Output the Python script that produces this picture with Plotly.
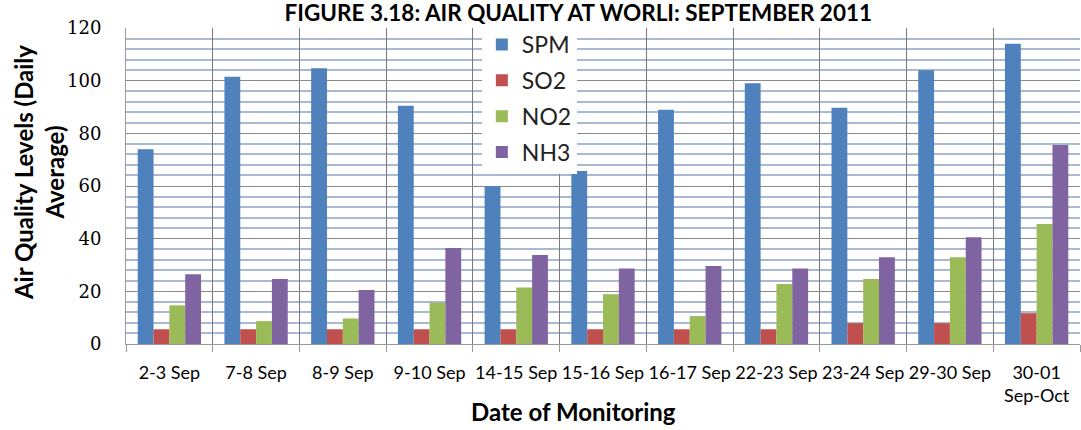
import plotly.graph_objects as go

categories = ["2-3 Sep", "7-8 Sep", "8-9 Sep", "9-10 Sep", "14-15 Sep", "15-16 Sep",
              "16-17 Sep", "22-23 Sep", "23-24 Sep", "29-30 Sep", "30-01<br>Sep-Oct"]
spm = [74, 101.5, 104.7, 90.5, 60, 65.7, 89, 99, 89.7, 104, 114]
so2 = [5.6, 5.6, 5.6, 5.6, 5.6, 5.6, 5.6, 5.6, 7.9, 7.9, 11.7]
no2 = [14.7, 8.7, 9.7, 15.7, 21.5, 18.9, 10.6, 22.8, 24.7, 32.9, 45.6]
nh3 = [26.5, 24.7, 20.5, 36.5, 33.8, 28.7, 29.6, 28.7, 32.9, 40.5, 75.6]

series = [("SPM", spm, "#4F81BD"), ("SO2", so2, "#C0504D"),
          ("NO2", no2, "#9BBB59"), ("NH3", nh3, "#8064A2")]

fig = go.Figure()
for name, vals, col in series:
    fig.add_trace(go.Bar(x=categories, y=vals, name=name, marker_color=col,
                         marker_line_width=0, legendgroup=name))

fig.update_layout(
    width=1081, height=430,
    margin=dict(l=126, r=1, t=28, b=86, autoexpand=False),
    paper_bgcolor="white", plot_bgcolor="white",
    barmode="group", bargap=0.27, bargroupgap=0,
    title=dict(text="<b>FIGURE 3.18: AIR QUALITY AT WORLI: SEPTEMBER 2011</b>",
               x=0.535, xanchor="center", y=0.988, yanchor="top",
               font=dict(family="Lato", size=22.5, color="black")),
    legend=dict(x=0.373, xanchor="left", y=1.016, yanchor="top",
                bgcolor="white", font=dict(family="Lato", size=23, color="#222"),
                tracegroupgap=3, itemwidth=30),
    xaxis=dict(tickson="boundaries", showgrid=True, gridcolor="#7a7a7a", gridwidth=1,
               ticks="outside", ticklen=7, tickcolor="#999", tickangle=0,
               showline=True, linecolor="#999", automargin=False,
               ticklabelstandoff=12,
               tickfont=dict(family="Lato", size=18, color="black")),
    yaxis=dict(range=[0, 120], dtick=20, showgrid=True, gridcolor="#8a8a8a", gridwidth=1,
               minor=dict(dtick=4, showgrid=True, gridcolor="#aab8d0", gridwidth=2),
               showline=True, linecolor="#999", zeroline=False, automargin=False,
               ticks="", ticklabelstandoff=20,
               tickfont=dict(family="DejaVu Serif", size=18, color="black")),
    annotations=[
        dict(text="<b>Date of Monitoring</b>", xref="paper", yref="paper",
             x=0.4686, y=-0.215, xanchor="center", yanchor="middle",
             showarrow=False, font=dict(family="Lato", size=24, color="black")),
        dict(text="<b>Air Quality Levels (Daily<br>Average)</b>", xref="paper", yref="paper",
             x=-0.0912, y=0.544, xanchor="center", yanchor="middle", textangle=-90,
             showarrow=False, font=dict(family="Lato", size=24, color="black")),
    ],
)

fig.write_html("out.html", config={"displayModeBar": False},
               post_script="document.body.style.margin='0';document.body.style.overflow='hidden';")
